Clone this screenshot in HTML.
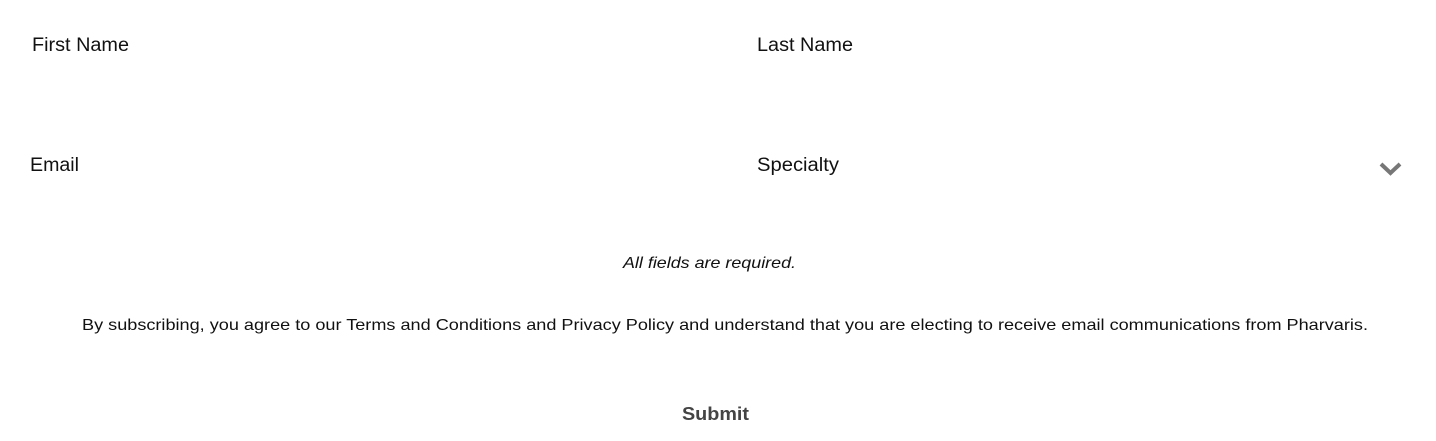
<!DOCTYPE html>
<html><head><meta charset="utf-8"><style>
html,body{margin:0;padding:0;background:#fff;width:1436px;height:441px;overflow:hidden}
svg{display:block}
text{font-family:"Liberation Sans",sans-serif}
</style></head><body>
<svg width="1436" height="441" viewBox="0 0 1436 441" xmlns="http://www.w3.org/2000/svg">
<text x="32" y="51" font-size="19" fill="#111" textLength="97" lengthAdjust="spacingAndGlyphs">First Name</text>
<text x="757" y="51" font-size="19" fill="#111" textLength="96" lengthAdjust="spacingAndGlyphs">Last Name</text>
<text x="30" y="171" font-size="19" fill="#111" textLength="49" lengthAdjust="spacingAndGlyphs">Email</text>
<text x="757" y="171" font-size="19" fill="#111" textLength="82" lengthAdjust="spacingAndGlyphs">Specialty</text>
<polyline points="1381,164 1390.5,173 1400,164" fill="none" stroke="#777" stroke-width="4"/>
<text x="623" y="268" font-size="16" font-style="italic" fill="#111" textLength="173" lengthAdjust="spacingAndGlyphs">All fields are required.</text>
<text x="82" y="330" font-size="16" fill="#111" textLength="1286" lengthAdjust="spacingAndGlyphs">By subscribing, you agree to our Terms and Conditions and Privacy Policy and understand that you are electing to receive email communications from Pharvaris.</text>
<text x="682" y="420" font-size="18" font-weight="bold" fill="#444" textLength="67" lengthAdjust="spacingAndGlyphs">Submit</text>
</svg>
</body></html>
